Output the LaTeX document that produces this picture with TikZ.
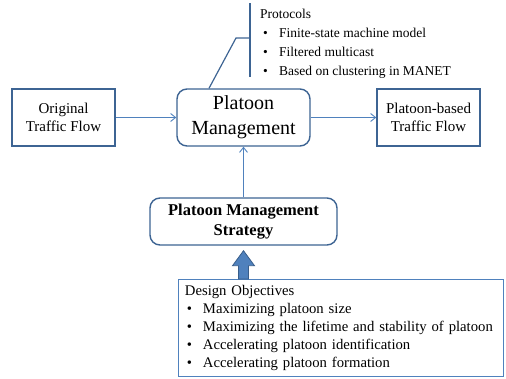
\documentclass[tikz,border=0pt]{standalone}
\usepackage{fontspec}
\setmainfont{Liberation Serif}
\usepackage{tikz}
\usetikzlibrary{arrows.meta,calc,positioning}

\definecolor{boxline}{HTML}{3D6493}
\definecolor{linkblue}{HTML}{4F81BD}
\definecolor{arrowfill}{HTML}{4F81BD}
\definecolor{arrowline}{HTML}{385D8A}

\newcommand{\itm}[1]{\makebox[19pt][l]{\hspace{3pt}\textbullet}#1}

\begin{document}
\begin{tikzpicture}[x=1pt,y=-1pt,
    flowbox/.style={draw=boxline,line width=1.4pt,fill=white,align=center,
      minimum width=103pt,minimum height=57pt,inner sep=2pt,
      font=\fontsize{15}{18}\selectfont},
    mainbox/.style={flowbox,rounded corners=10pt},
    link/.style={draw=linkblue,line width=0.9pt,-{Straight Barb[length=5pt,width=8pt]}},
    bracket/.style={draw=boxline,line width=1.2pt},
    listtext/.style={align=left,inner xsep=10pt,inner ysep=0pt,
      font=\fontsize{13.5}{19}\selectfont}]
  \useasboundingbox (0,0) rectangle (506,378);
  % boxes of the flow
  \node[flowbox] (orig) at (63.5,117.5) {Original\\Traffic Flow};
  \node[mainbox,minimum width=133pt,font=\fontsize{20}{25}\selectfont] (mgmt) at (243.5,117.5) {Platoon\\Management};
  \node[flowbox] (pbased) at (428.5,117.5) {Platoon-based\\Traffic Flow};
  \node[mainbox,minimum width=187pt,minimum height=47pt,
    font=\fontsize{16.5}{20}\selectfont\bfseries] (strat) at (243.5,221.5) {Platoon Management\\Strategy};
  % protocols
  \node[listtext,anchor=west] (proto) at (250,44)
    {Protocols\\\itm{Finite-state machine model}\\\itm{Filtered multicast}\\\itm{Based on clustering in MANET}};
  \coordinate (elbow) at (236,38);
  \draw[bracket] (proto.west |- 0,3) -- (proto.west |- 0,77);
  \draw[bracket] (proto.west |- elbow) -- (elbow) -- ([xshift=-34.5pt]mgmt.north);
  % design objectives
  \node[draw=linkblue,line width=0.9pt,anchor=north west,minimum width=325pt,minimum height=97pt,
    text width=318pt,inner xsep=3.5pt,align=left,font=\fontsize{14.7}{17.9}\selectfont] (design) at (178,279)
    {\hspace*{3pt}Design Objectives\\\hspace*{2pt}\itm{Maximizing platoon size}\\\hspace*{2pt}\itm{Maximizing the lifetime and stability of platoon}\\
     \hspace*{2pt}\itm{Accelerating platoon identification}\\\hspace*{2pt}\itm{Accelerating platoon formation}};
  % connectors
  \draw[link] (orig) -- (mgmt);
  \draw[link] (mgmt) -- (pbased);
  \draw[link] (strat) -- (mgmt);
  \coordinate (tip) at ($(strat.south)+(0,5)$);
  \coordinate (foot) at (design.north -| strat.south);
  \draw[fill=arrowfill,draw=arrowline,line width=0.8pt]
    (tip) -- ($(tip)+(11,15)$) -- ($(tip)+(5,15)$) -- ($(foot)+(5,0)$)
    -- ($(foot)+(-5,0)$) -- ($(tip)+(-5,15)$) -- ($(tip)+(-11,15)$) -- cycle;
\end{tikzpicture}
\end{document}
